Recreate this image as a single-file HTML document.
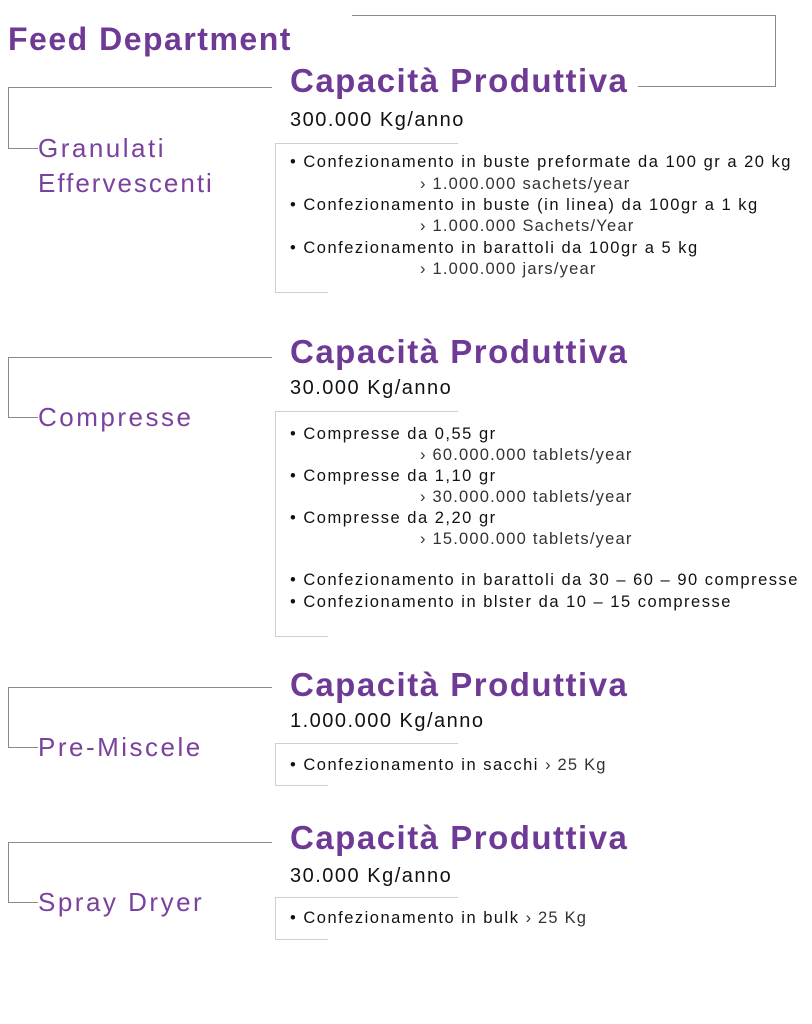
<!DOCTYPE html>
<html><head><meta charset="utf-8"><style>
body{margin:0;width:812px;height:1024px;background:#fff;position:relative;font-family:"Liberation Sans",sans-serif;overflow:hidden}
.a{position:absolute;white-space:nowrap}
.l{position:absolute;background:#8a8a8a}
.g{position:absolute;background:#cfcfcf}
.t{font-weight:bold;color:#6f3a96;font-size:33px;line-height:36px;letter-spacing:1.5px}
.k{font-size:20px;line-height:24px;color:#111;letter-spacing:1.5px}
.c{font-size:26px;line-height:32px;color:#7a429e;letter-spacing:2.5px}
.i{font-size:16.5px;line-height:20px;color:#111;letter-spacing:1.5px}
.s{color:#333;letter-spacing:1.2px}
</style></head><body>
<div class="a t" style="left:8px;top:21px;font-size:32px;letter-spacing:1.5px">Feed Department</div>
<div class="l" style="left:352px;top:15px;width:424px;height:1px"></div>
<div class="l" style="left:775px;top:15px;width:1px;height:72px"></div>
<div class="l" style="left:638px;top:86px;width:138px;height:1px"></div>

<div class="l" style="left:8px;top:87px;width:264px;height:1px"></div>
<div class="l" style="left:8px;top:87px;width:1px;height:62px"></div>
<div class="l" style="left:8px;top:148px;width:30px;height:1px"></div>
<div class="a t" style="left:290px;top:63px">Capacità Produttiva</div>
<div class="a k" style="left:290px;top:108px">300.000 Kg/anno</div>
<div class="a c" style="left:38px;top:132px">Granulati</div>
<div class="a c" style="left:38px;top:167px;letter-spacing:2px">Effervescenti</div>
<div class="g" style="left:275px;top:143px;width:183px;height:1px"></div>
<div class="g" style="left:275px;top:143px;width:1px;height:150px"></div>
<div class="g" style="left:275px;top:292px;width:53px;height:1px"></div>
<div class="a i" style="left:290px;top:152px">• Confezionamento in buste preformate da 100 gr a 20 kg</div>
<div class="a i s" style="left:420px;top:174px">› 1.000.000 sachets/year</div>
<div class="a i" style="left:290px;top:195px">• Confezionamento in buste (in linea) da 100gr a 1 kg</div>
<div class="a i s" style="left:420px;top:216px">› 1.000.000 Sachets/Year</div>
<div class="a i" style="left:290px;top:238px">• Confezionamento in barattoli da 100gr a 5 kg</div>
<div class="a i s" style="left:420px;top:259px">› 1.000.000 jars/year</div>

<div class="l" style="left:8px;top:357px;width:264px;height:1px"></div>
<div class="l" style="left:8px;top:357px;width:1px;height:61px"></div>
<div class="l" style="left:8px;top:417px;width:30px;height:1px"></div>
<div class="a t" style="left:290px;top:334px">Capacità Produttiva</div>
<div class="a k" style="left:290px;top:376px">30.000 Kg/anno</div>
<div class="a c" style="left:38px;top:401px">Compresse</div>
<div class="g" style="left:275px;top:411px;width:183px;height:1px"></div>
<div class="g" style="left:275px;top:411px;width:1px;height:226px"></div>
<div class="g" style="left:275px;top:636px;width:53px;height:1px"></div>
<div class="a i" style="left:290px;top:424px">• Compresse da 0,55 gr</div>
<div class="a i s" style="left:420px;top:445px">› 60.000.000 tablets/year</div>
<div class="a i" style="left:290px;top:466px">• Compresse da 1,10 gr</div>
<div class="a i s" style="left:420px;top:487px">› 30.000.000 tablets/year</div>
<div class="a i" style="left:290px;top:508px">• Compresse da 2,20 gr</div>
<div class="a i s" style="left:420px;top:529px">› 15.000.000 tablets/year</div>
<div class="a i" style="left:290px;top:570px">• Confezionamento in barattoli da 30 – 60 – 90 compresse</div>
<div class="a i" style="left:290px;top:592px">• Confezionamento in blster da 10 – 15 compresse</div>

<div class="l" style="left:8px;top:687px;width:264px;height:1px"></div>
<div class="l" style="left:8px;top:687px;width:1px;height:61px"></div>
<div class="l" style="left:8px;top:747px;width:30px;height:1px"></div>
<div class="a t" style="left:290px;top:667px">Capacità Produttiva</div>
<div class="a k" style="left:290px;top:709px">1.000.000 Kg/anno</div>
<div class="a c" style="left:38px;top:731px">Pre-Miscele</div>
<div class="g" style="left:275px;top:743px;width:183px;height:1px"></div>
<div class="g" style="left:275px;top:743px;width:1px;height:43px"></div>
<div class="g" style="left:275px;top:785px;width:53px;height:1px"></div>
<div class="a i" style="left:290px;top:755px">• Confezionamento in sacchi <span class="s">› 25 Kg</span></div>

<div class="l" style="left:8px;top:842px;width:264px;height:1px"></div>
<div class="l" style="left:8px;top:842px;width:1px;height:61px"></div>
<div class="l" style="left:8px;top:902px;width:30px;height:1px"></div>
<div class="a t" style="left:290px;top:820px">Capacità Produttiva</div>
<div class="a k" style="left:290px;top:864px">30.000 Kg/anno</div>
<div class="a c" style="left:38px;top:886px">Spray Dryer</div>
<div class="g" style="left:275px;top:897px;width:183px;height:1px"></div>
<div class="g" style="left:275px;top:897px;width:1px;height:43px"></div>
<div class="g" style="left:275px;top:939px;width:53px;height:1px"></div>
<div class="a i" style="left:290px;top:908px">• Confezionamento in bulk <span class="s">› 25 Kg</span></div>
</body></html>
